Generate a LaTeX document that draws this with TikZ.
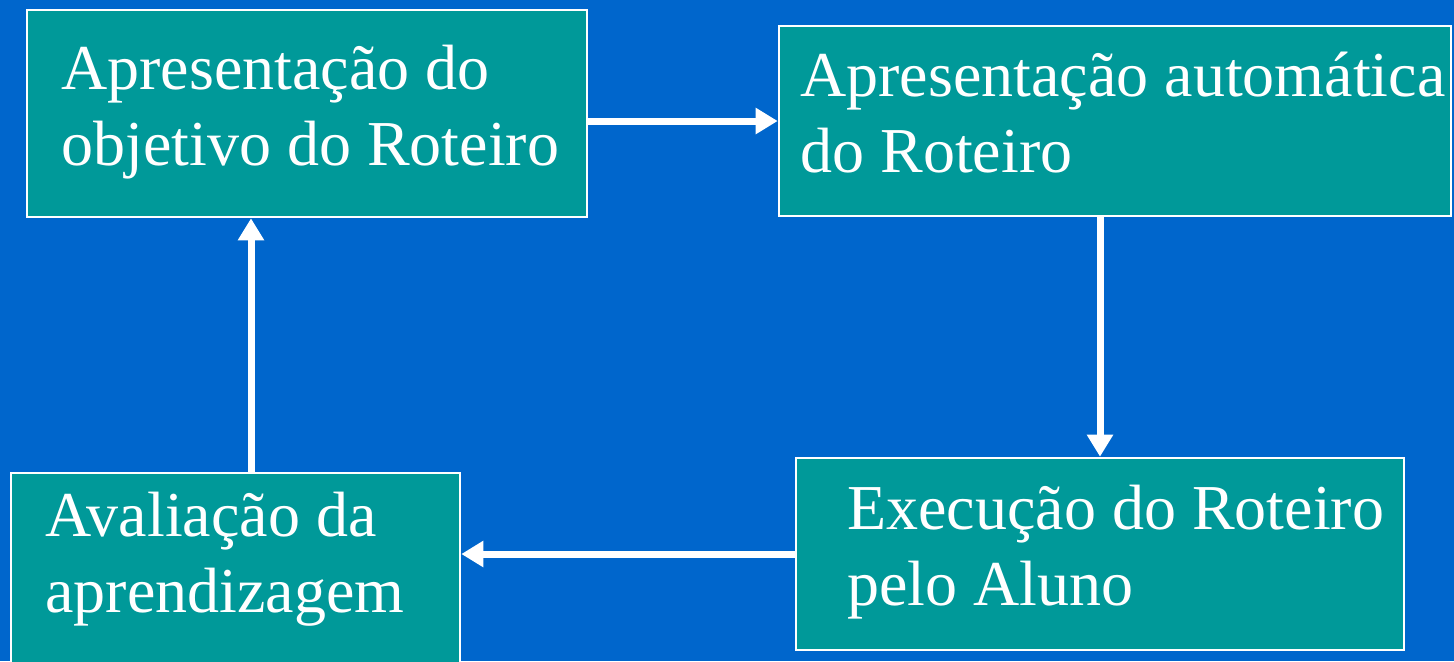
\documentclass[tikz,border=0pt]{standalone}
\usepackage{fontspec}
\setmainfont{Liberation Serif}
\usetikzlibrary{arrows.meta}
\definecolor{bgblue}{HTML}{0066CC}
\definecolor{teal}{HTML}{009999}
\begin{document}
\begin{tikzpicture}[x=0.5pt,y=-0.5pt,
  box/.style={draw=white,line width=1.3pt,fill=teal,inner sep=0pt},
  lbl/.style={text=white,anchor=base west,align=left,inner sep=0pt,font=\fontsize{32}{38}\selectfont},
  arr/.style={draw=white,line width=3.5pt,-{Triangle[length=11pt,width=12.5pt]}}]
\useasboundingbox (0,0) rectangle (1454,661);
\clip (0,0) rectangle (1454,661);
\fill[bgblue] (0,0) rectangle (1454,661);
\node[box,minimum width=280pt,minimum height=103.5pt] (b1) at (307,113.5) {};
\node[box,minimum width=336pt,minimum height=95pt] (b2) at (1115,121) {};
\node[box,minimum width=304pt,minimum height=96pt] (b3) at (1100,554) {};
\node[box,minimum width=224.5pt,minimum height=100pt] (b4) at (235.5,573) {};
\node[lbl] (t1) at (61,165) {Apresentação do\\objetivo do Roteiro};
\node[lbl] (t2) at (800,172) {Apresentação automática\\do Roteiro};
\node[lbl] (t3) at (847,605) {Execução do Roteiro\\pelo Aluno};
\node[lbl] (t4) at (45,612) {Avaliação da\\aprendizagem};
\coordinate (a4) at (251,0);
\draw[arr] (b1.east |- b2.west) -- (b2.west);
\draw[arr] (b2.south -| b3.north) -- (b3.north);
\draw[arr] (b3.west) -- (b4.east |- b3.west);
\draw[arr] (b4.north -| a4) -- (b1.south -| a4);
\end{tikzpicture}
\end{document}
